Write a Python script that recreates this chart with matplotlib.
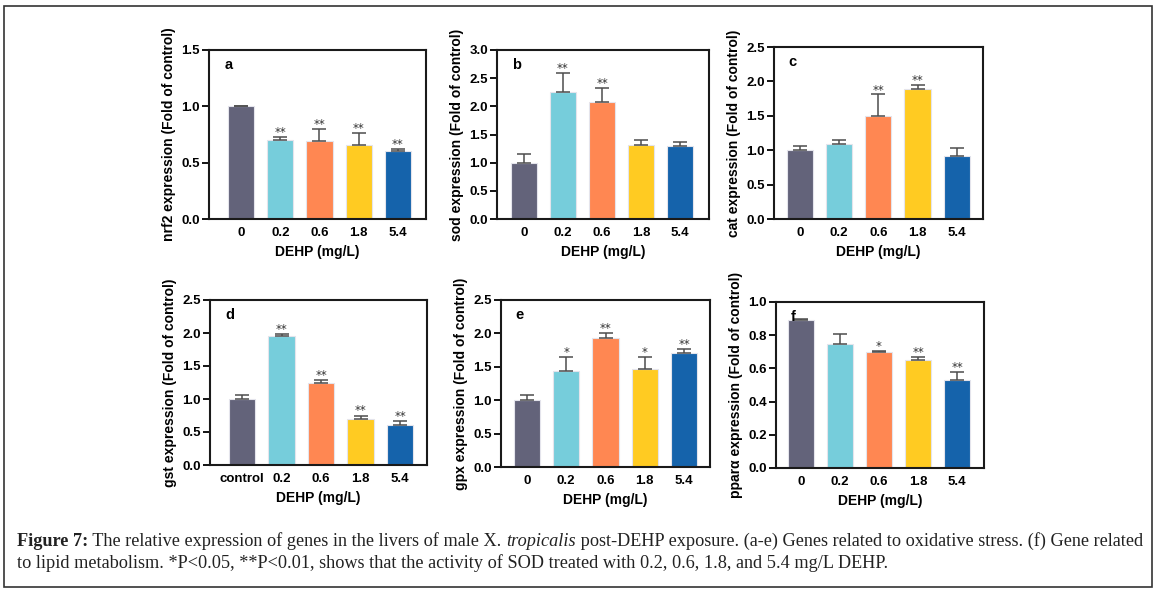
import matplotlib
matplotlib.use("Agg")
import matplotlib.pyplot as plt
import numpy as np
from matplotlib.patches import Rectangle

plt.rcParams['font.family'] = ['Liberation Sans', 'DejaVu Sans']
plt.rcParams['font.weight'] = 'bold'

# Data
doses = ["0", "0.2", "0.6", "1.8", "5.4"]
doses_d = ["control", "0.2", "0.6", "1.8", "5.4"]

nrf2 = [1.00, 0.70, 0.69, 0.66, 0.60]
nrf2_err = [0.005, 0.03, 0.11, 0.10, 0.02]
nrf2_sig = ["", "**", "**", "**", "**"]

sod = [1.00, 2.25, 2.07, 1.31, 1.29]
sod_err = [0.16, 0.35, 0.25, 0.10, 0.07]
sod_sig = ["", "**", "**", "", ""]

cat = [1.00, 1.09, 1.50, 1.89, 0.91]
cat_err = [0.06, 0.06, 0.31, 0.06, 0.12]
cat_sig = ["", "", "**", "**", ""]

gst = [1.00, 1.96, 1.24, 0.69, 0.60]
gst_err = [0.06, 0.03, 0.05, 0.06, 0.07]
gst_sig = ["", "**", "**", "**", "**"]

gpx = [1.00, 1.44, 1.93, 1.46, 1.70]
gpx_err = [0.08, 0.20, 0.07, 0.19, 0.06]
gpx_sig = ["", "*", "**", "*", "**"]

ppara = [0.89, 0.75, 0.70, 0.65, 0.53]
ppara_err = [0.005, 0.06, 0.005, 0.02, 0.05]
ppara_sig = ["", "", "*", "**", "**"]

colors = ["#63637a", "#76cddb", "#ff8752", "#ffcb22", "#1563ab"]

W, H = 1158, 594
fig = plt.figure(figsize=(W / 100, H / 100), dpi=100)

# (left, right, top, bottom) in pixels, xlim, ylim, tick step
panels = [
    ("a", "nrf2", nrf2, nrf2_err, nrf2_sig, doses, (209, 426, 50, 219), (-0.82, 4.72), 1.5, 0.5),
    ("b", "sod", sod, sod_err, sod_sig, doses, (497, 709, 50, 219), (-0.69, 4.74), 3.0, 0.5),
    ("c", "cat", cat, cat_err, cat_sig, doses, (774, 983, 47, 219), (-0.66, 4.67), 2.5, 0.5),
    ("d", "gst", gst, gst_err, gst_sig, doses_d, (210, 427, 300, 465), (-0.81, 4.68), 2.5, 0.5),
    ("e", "gpx", gpx, gpx_err, gpx_sig, doses, (501, 710, 300, 467), (-0.66, 4.66), 2.5, 0.5),
    ("f", "ppar\u03b1", ppara, ppara_err, ppara_sig, doses, (776, 984, 302, 468), (-0.64, 4.69), 1.0, 0.2),
]

for letter, gene, vals, errs, sig, labels, (l, r, t, b), xl, ymax, step in panels:
    ax = fig.add_axes([l / W, 1 - b / H, (r - l) / W, (b - t) / H])
    x = np.arange(len(vals))
    ax.bar(x, vals, width=0.67, color=colors, edgecolor="#e4e4ec", linewidth=0.8, zorder=2)
    ax.errorbar(x, vals, yerr=[np.zeros(len(errs)), errs], fmt="none",
                ecolor="#4d4d4d", elinewidth=1.1, capsize=5, capthick=1.1, zorder=3)
    for xi, v, e, s in zip(x, vals, errs, sig):
        if s:
            ax.text(xi, v + e - ymax * 0.012, s, ha="center", va="bottom",
                    fontsize=8.5, color="#333333", fontweight="normal", family="DejaVu Sans")
    ax.set_xlim(*xl)
    ax.set_ylim(0, ymax)
    ticks = np.arange(0, ymax + step / 2, step)
    ax.set_yticks(ticks)
    ax.set_yticklabels(["%.1f" % v for v in ticks])
    ax.set_xticks(x)
    ax.set_xticklabels(labels)
    ax.tick_params(axis="x", length=0, pad=6, labelsize=9.5)
    ax.tick_params(axis="y", length=5, width=1.3, pad=1.5, labelsize=9.5)
    for sp in ax.spines.values():
        sp.set_linewidth(1.5)
        sp.set_color("#1a1a1a")
    ax.set_xlabel("DEHP (mg/L)", fontsize=10, fontweight="bold", labelpad=4)
    ax.set_ylabel(gene + " expression (Fold of control)", fontsize=10, fontweight="bold", labelpad=4)
    ax.text(0.07, 0.91, letter, transform=ax.transAxes, ha="left", va="center",
            fontsize=10.5, fontweight="bold")

# outer frame
fig.patches.append(Rectangle((4 / W, 1 - 587 / H), 1148 / W, 581 / H, transform=fig.transFigure,
                             fill=False, edgecolor="#333333", linewidth=1.2))

# caption, built piece by piece
cap_font = ['Liberation Serif', 'DejaVu Serif']
cap_size = 13.15
line1 = [("Figure 7:", "bold", "normal"),
         (" The relative expression of genes in the livers of male X. ", "normal", "normal"),
         ("tropicalis", "normal", "italic"),
         (" post-DEHP exposure. (a-e) Genes related to oxidative stress. (f) Gene related", "normal", "normal")]
line2 = [("to lipid metabolism. *P<0.05, **P<0.01, shows that the activity of SOD treated with 0.2, 0.6, 1.8, and 5.4 mg/L DEHP.",
          "normal", "normal")]

fig.canvas.draw()
renderer = fig.canvas.get_renderer()
for pieces, ybase in [(line1, 546), (line2, 568)]:
    xpos = 17
    for txt, wt, st in pieces:
        tt = fig.text(xpos / W, 1 - ybase / H, txt, family=cap_font, fontsize=cap_size,
                      fontweight=wt, fontstyle=st, va="baseline", ha="left", color="#222222")
        bb = tt.get_window_extent(renderer)
        xpos = bb.x1

fig.savefig("out.png", dpi=100)
